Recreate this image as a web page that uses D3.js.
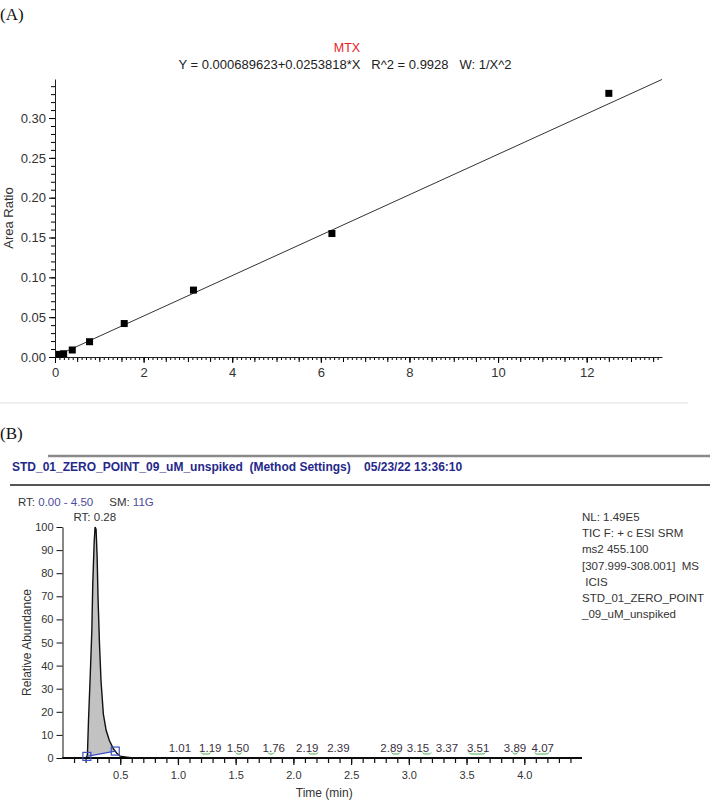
<!DOCTYPE html>
<html>
<head>
<meta charset="utf-8">
<script src="https://cdn.jsdelivr.net/npm/d3@7"></script>
<style>
  body { margin: 0; background: #fff; }
  svg { display: block; }
  text { font-family: "Liberation Sans", Arial, sans-serif; }
</style>
</head>
<body>
<svg id="chart" width="710" height="800"></svg>
<script>
// ---- Panel A: MTX calibration curve ----
const concentration = [0.0977, 0.195, 0.39, 0.78, 1.5625, 3.125, 6.25, 12.5];
const areaRatio     = [0.0033, 0.0041, 0.0088, 0.0192, 0.042, 0.084, 0.155, 0.331];
const fitIntercept = 0.000689623;
const fitSlope = 0.0253818;
const fitRange = [0, 13.7];
const calTicksX = [0, 2, 4, 6, 8, 10, 12];
const calTicksY = [0, 0.05, 0.10, 0.15, 0.20, 0.25, 0.30];

// ---- Panel B: chromatogram ----
const traceTime  = [0, 0.15, 0.205, 0.211, 0.216, 0.225, 0.239, 0.254, 0.262, 0.274, 0.282, 0.291, 0.300, 0.308, 0.320, 0.334, 0.354, 0.378, 0.406, 0.441, 0.457, 0.470, 0.499, 0.557, 0.614, 0.70, 4.5];
const traceAbund = [0, 0, 0.2, 0.7, 1.5, 16, 34, 55, 75, 93, 100, 99, 87, 69, 50, 33, 19, 12, 7.6, 4, 3.0, 2, 0.8, 0.4, 0, 0, 0];
const integTime  = [0.211, 0.457];
const integAbund = [0.7, 3.0];
const apexRT = 0.28;
// peak labels (text) and the time at which the software drew each label
const peakLabels = ["1.01", "1.19", "1.50", "1.76", "2.19", "2.39", "2.89", "3.15", "3.37", "3.51", "3.89", "4.07"];
const labelTime  = [1.017, 1.28, 1.52, 1.83, 2.12, 2.39, 2.85, 3.08, 3.33, 3.60, 3.92, 4.16];
const noiseStart = [1.20, 1.50, 1.78, 2.13, 2.85, 3.12, 3.52, 3.90, 4.09];
const noiseEnd   = [1.27, 1.54, 1.82, 2.20, 2.91, 3.18, 3.65, 3.93, 4.20];
const chromTicksX = [0.5, 1.0, 1.5, 2.0, 2.5, 3.0, 3.5, 4.0];
const chromTicksY = [0, 10, 20, 30, 40, 50, 60, 70, 80, 90, 100];
const infoLines = ["NL: 1.49E5", "TIC F: + c ESI SRM", "ms2 455.100", "[307.999-308.001]  MS", " ICIS", "STD_01_ZERO_POINT", "_09_uM_unspiked"];

const svg = d3.select("#chart");
const ink = "#333";

// ================= Panel A =================
svg.append("text").attr("x", 0).attr("y", 20)
  .style("font-family", "'Liberation Serif', 'Times New Roman', serif")
  .attr("font-size", 17).attr("fill", "#111").text("(A)");

const xA = d3.scaleLinear().domain([0, 13.7]).range([55, 662]);
const yA = d3.scaleLinear().domain([0, 0.349]).range([357, 79]);

svg.append("text").attr("x", 347).attr("y", 52).attr("text-anchor", "middle")
  .attr("font-size", 12.5).attr("fill", "#e8211d").text("MTX");
svg.append("text").attr("x", 345).attr("y", 69).attr("text-anchor", "middle")
  .attr("font-size", 13).attr("fill", "#222").style("white-space", "pre")
  .text("Y = 0.000689623+0.0253818*X   R^2 = 0.9928   W: 1/X^2");

const gA = svg.append("g");

// x axis: minor 0.1, medium 0.5, labelled every 2
gA.append("g").attr("transform", `translate(0,${yA(0)})`)
  .call(d3.axisBottom(xA).tickValues(d3.range(1, 137).map(i => i / 10)).tickSize(3).tickFormat("").tickSizeOuter(0))
  .call(a => a.select(".domain").remove());
gA.append("g").attr("transform", `translate(0,${yA(0)})`)
  .call(d3.axisBottom(xA).tickValues(d3.range(1, 28).map(i => i / 2)).tickSize(5).tickFormat("").tickSizeOuter(0))
  .call(a => a.select(".domain").remove());
gA.append("g").attr("transform", `translate(0,${yA(0)})`)
  .call(d3.axisBottom(xA).tickValues(calTicksX).tickSize(6).tickPadding(5).tickFormat(d3.format("d")).tickSizeOuter(0))
  .call(a => a.select(".domain").attr("stroke", "#222"))
  .call(a => a.selectAll("text").attr("font-size", 13).attr("fill", ink).style("font-family", "'Liberation Sans', Arial, sans-serif"));

// y axis: minor 0.01, labelled every 0.05
gA.append("g").attr("transform", `translate(${xA(0)},0)`)
  .call(d3.axisLeft(yA).tickValues(d3.range(1, 35).map(i => i / 100)).tickSize(4).tickFormat("").tickSizeOuter(0))
  .call(a => a.select(".domain").remove());
gA.append("g").attr("transform", `translate(${xA(0)},0)`)
  .call(d3.axisLeft(yA).tickValues(calTicksY).tickSize(6).tickPadding(3).tickFormat(d3.format(".2f")).tickSizeOuter(0))
  .call(a => a.select(".domain").attr("stroke", "#222"))
  .call(a => a.selectAll("text").attr("font-size", 13).attr("fill", ink).style("font-family", "'Liberation Sans', Arial, sans-serif"));

svg.append("text").attr("transform", `translate(13,${(yA(0) + yA(0.349)) / 2}) rotate(-90)`)
  .attr("text-anchor", "middle").attr("font-size", 13).attr("fill", ink).text("Area Ratio");

// regression line
const fitLine = d3.line().x(d => xA(d)).y(d => yA(fitIntercept + fitSlope * d));
gA.append("path").datum(fitRange).attr("d", fitLine)
  .attr("fill", "none").attr("stroke", "#333").attr("stroke-width", 1);

// calibration points
const sq = 7;
gA.selectAll("rect.pt").data(concentration).join("rect").attr("class", "pt")
  .attr("x", d => xA(d) - sq / 2).attr("y", (d, i) => yA(areaRatio[i]) - sq / 2)
  .attr("width", sq).attr("height", sq).attr("fill", "#000");

// separator
svg.append("line").attr("x1", 0).attr("x2", 688).attr("y1", 403).attr("y2", 403)
  .attr("stroke", "#efefef").attr("stroke-width", 2);

// ================= Panel B =================
svg.append("text").attr("x", 0).attr("y", 439)
  .style("font-family", "'Liberation Serif', 'Times New Roman', serif")
  .attr("font-size", 17).attr("fill", "#111").text("(B)");

svg.append("line").attr("x1", 48).attr("x2", 710).attr("y1", 456).attr("y2", 456)
  .attr("stroke", "#8a8a8a").attr("stroke-width", 2.5);
svg.append("text").attr("x", 12).attr("y", 471).attr("font-size", 12).attr("font-weight", "bold")
  .attr("fill", "#25288a").style("white-space", "pre")
  .text("STD_01_ZERO_POINT_09_uM_unspiked  (Method Settings)    05/23/22 13:36:10");
svg.append("line").attr("x1", 10).attr("x2", 710).attr("y1", 485).attr("y2", 485)
  .attr("stroke", "#555").attr("stroke-width", 2);

const rtText = svg.append("text").attr("x", 18).attr("y", 506).attr("font-size", 11.5)
  .style("white-space", "pre").attr("fill", ink);
rtText.append("tspan").text("RT: ");
rtText.append("tspan").attr("fill", "#4c4c9c").text("0.00 - 4.50");
rtText.append("tspan").text("     SM: ");
rtText.append("tspan").attr("fill", "#4c4c9c").text("11G");

const xB = d3.scaleLinear().domain([0, 4.5]).range([62.5, 582]);
const yB = d3.scaleLinear().domain([0, 100]).range([758, 527]);
const gB = svg.append("g");

// integrated peak fill between trace and baseline
const baseAt = d3.scaleLinear().domain(integTime).range(integAbund);
const fillIdx = traceTime.map((t, i) => i).filter(i => traceTime[i] >= integTime[0] && traceTime[i] <= integTime[1]);
const fillArea = d3.area().x(i => xB(traceTime[i])).y0(i => yB(baseAt(traceTime[i]))).y1(i => yB(traceAbund[i]));
gB.append("path").datum(fillIdx).attr("d", fillArea).attr("fill", "#c2c2c2");

// y axis
gB.append("g").attr("transform", `translate(${xB(0)},0)`)
  .call(d3.axisLeft(yB).tickValues(chromTicksY).tickSize(6).tickPadding(3).tickSizeOuter(0))
  .call(a => a.select(".domain").attr("stroke", "#111"))
  .call(a => a.selectAll("line").attr("stroke", "#111"))
  .call(a => a.selectAll("text").attr("font-size", 11).attr("fill", ink).style("font-family", "'Liberation Sans', Arial, sans-serif"));

// x axis
gB.append("g").attr("transform", `translate(0,${yB(0)})`)
  .call(d3.axisBottom(xB).tickValues(d3.range(1, 45).map(i => i / 10)).tickSize(5).tickFormat("").tickSizeOuter(0))
  .call(a => a.select(".domain").remove())
  .call(a => a.selectAll("line").attr("stroke", "#111").attr("stroke-width", 1.2));
gB.append("g").attr("transform", `translate(0,${yB(0)})`)
  .call(d3.axisBottom(xB).tickValues(chromTicksX).tickSize(7).tickPadding(6).tickFormat(d3.format(".1f")).tickSizeOuter(0))
  .call(a => a.select(".domain").remove())
  .call(a => a.selectAll("line").attr("stroke", "#111").attr("stroke-width", 1.2))
  .call(a => a.selectAll("text").attr("font-size", 11).attr("fill", ink).style("font-family", "'Liberation Sans', Arial, sans-serif"));
gB.append("line").attr("x1", xB(0)).attr("x2", xB(4.5)).attr("y1", yB(0)).attr("y2", yB(0))
  .attr("stroke", "#000").attr("stroke-width", 2.2);

// trace
const trace = d3.line().x(i => xB(traceTime[i])).y(i => yB(traceAbund[i]));
gB.append("path").datum(d3.range(traceTime.length)).attr("d", trace)
  .attr("fill", "none").attr("stroke", "#111").attr("stroke-width", 1.4);

// integration baseline + markers
gB.append("line").attr("x1", xB(integTime[0])).attr("y1", yB(integAbund[0]))
  .attr("x2", xB(integTime[1])).attr("y2", yB(integAbund[1]))
  .attr("stroke", "#3b4fc4").attr("stroke-width", 1.2);
gB.selectAll("rect.mk").data(integTime).join("rect").attr("class", "mk")
  .attr("x", d => xB(d) - 4).attr("y", (d, i) => yB(integAbund[i]) - 4)
  .attr("width", 8).attr("height", 8).attr("fill", "none")
  .attr("stroke", "#3b4fc4").attr("stroke-width", 1.2);

// noise peak markers + labels
gB.selectAll("path.nz").data(noiseStart).join("path").attr("class", "nz")
  .attr("d", (d, i) => {
    const x0 = xB(d), x1 = xB(noiseEnd[i]), y = yB(0) - 4;
    return `M${x0},${y - 1.5}L${x0 + 1.5},${y}L${x1},${y}L${x1 + 1.5},${y - 1.5}`;
  })
  .attr("fill", "none").attr("stroke", "#4cb04c").attr("stroke-width", 1);
gB.selectAll("text.pl").data(peakLabels).join("text").attr("class", "pl")
  .attr("x", (d, i) => xB(labelTime[i])).attr("y", yB(0) - 6).attr("text-anchor", "middle")
  .attr("font-size", 11.5).attr("fill", "#3a3040").text(d => d);

svg.append("text").attr("x", xB(apexRT)).attr("y", 521).attr("text-anchor", "middle")
  .attr("font-size", 11.5).attr("fill", ink).text("RT: " + apexRT.toFixed(2));

svg.append("text").attr("x", xB(2.25) + 2).attr("y", 797).attr("text-anchor", "middle")
  .attr("font-size", 12).attr("fill", ink).text("Time (min)");
svg.append("text").attr("transform", `translate(31,${yB(50)}) rotate(-90)`)
  .attr("text-anchor", "middle").attr("font-size", 12).attr("fill", ink).text("Relative Abundance");

svg.append("g").selectAll("text").data(infoLines).join("text")
  .attr("x", 582).attr("y", (d, i) => 521 + i * 16.2)
  .attr("font-size", 11.5).attr("fill", ink).style("white-space", "pre").text(d => d);
</script>
</body>
</html>
